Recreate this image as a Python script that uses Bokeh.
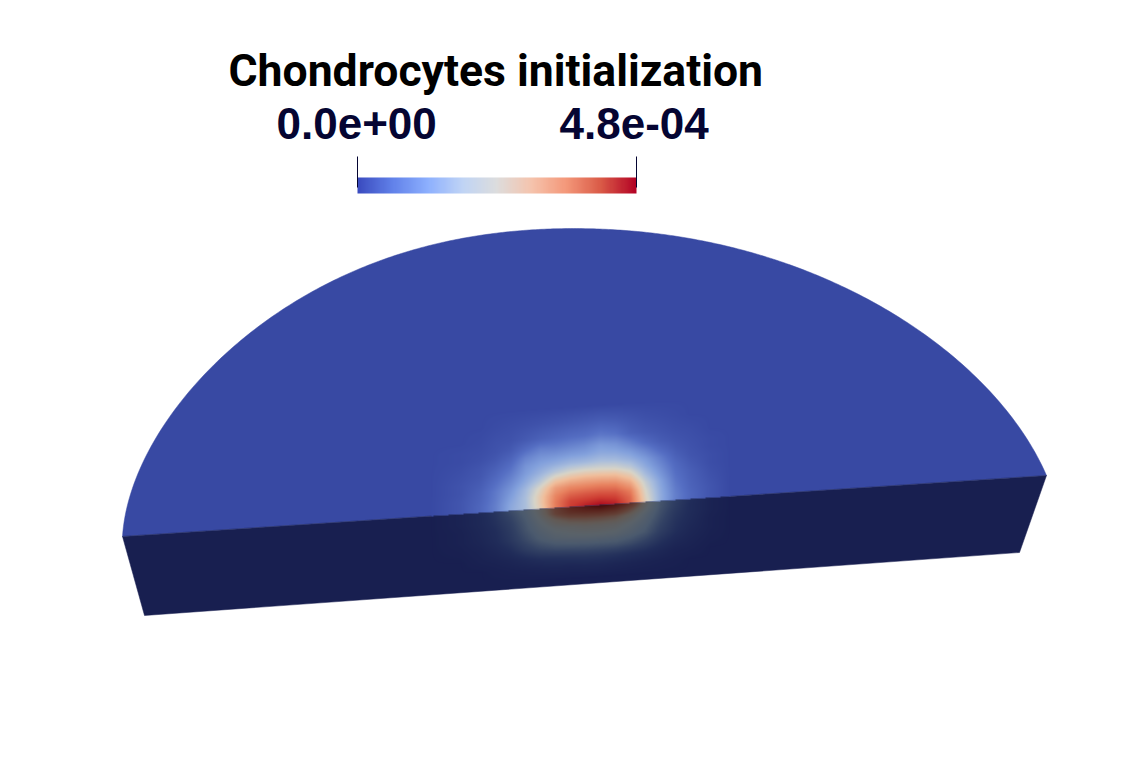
import numpy as np
from bokeh.plotting import figure
from bokeh.models import LinearColorMapper
from bokeh.core.properties import value
from bokeh.embed import file_html
from bokeh.resources import INLINE

H = 784
title_text = "Chondrocytes initialization"
range_labels = ["0.0e+00", "4.8e-04"]

arc_x = [122,130,143,163,187,220,250,283,323,377,430,493,543,590,630,680,737,787,833,880,920,957,990,1017,1046]
arc_y = [536,497,460,423,393,360,333,308,283,262,245,233,229,228,230,237,248,262,282,305,332,360,392,423,475]
front_x = [122,1046,1019,144]
front_y = [536,475,552,615]

cool_pos = [0,.125,.25,.375,.5,.625,.75,.875,1]
cool_r = [59,98,141,192,221,245,244,218,180]
cool_g = [76,130,176,212,221,196,152,90,4]
cool_b = [192,234,254,245,221,173,122,71,38]

dome_pos = [0,.15,.3,.4,.5,.6,.75,.9,1]
dome_r = [56,85,130,170,215,240,232,205,170]
dome_g = [73,110,160,190,212,190,130,60,10]
dome_b = [163,195,220,220,200,155,95,50,30]

side_pos = [0,.1,.2,.3,.4,.5,.6,.75,.9,1]
side_r = [24,33,50,75,90,98,100,92,78,66]
side_g = [31,45,65,90,98,90,65,40,20,10]
side_b = [80,90,100,110,105,85,55,32,18,10]

cols = [430,460,480,495,510,525,540,555,570,585,600,615,630,645,660,675,690,710,730]
dome_h = [0,6,12,20,28,36,44,52,60,70,85,100]
dome_vals = [
 [0,.05,.12,.20,.33,.40,.54,.76,.90,.96,1.0,.96,.82,.54,.34,.20,.12,.05,0],
 [0,.05,.12,.20,.32,.40,.56,.76,.88,.90,.92,.90,.80,.52,.34,.20,.12,.05,0],
 [0,.05,.11,.19,.30,.40,.56,.74,.82,.84,.85,.84,.76,.50,.33,.19,.11,.05,0],
 [0,.04,.10,.18,.27,.38,.52,.68,.73,.74,.75,.74,.66,.46,.31,.17,.10,.04,0],
 [0,.04,.08,.15,.23,.33,.43,.56,.61,.63,.63,.62,.55,.39,.27,.15,.09,.03,0],
 [0,.03,.06,.12,.19,.29,.36,.43,.48,.50,.50,.49,.44,.33,.23,.13,.07,.02,0],
 [0,.02,.05,.09,.15,.26,.31,.34,.37,.38,.40,.39,.35,.28,.19,.10,.05,.02,0],
 [0,.01,.03,.06,.11,.21,.26,.27,.29,.30,.33,.32,.28,.21,.13,.07,.04,.01,0],
 [0,.01,.02,.04,.07,.14,.20,.20,.22,.24,.28,.26,.20,.13,.08,.05,.03,.01,0],
 [0,0,.01,.03,.04,.07,.10,.12,.14,.15,.18,.16,.10,.07,.05,.03,.02,0,0],
 [0,0,0,.01,.02,.03,.04,.05,.06,.07,.08,.07,.05,.03,.02,.01,0,0,0],
 [0]*19,
]
side_d = [0,6,12,20,30,40,50,60,72]
side_vals = [
 [0,.03,.08,.14,.24,.33,.46,.62,.78,.88,1.0,.90,.72,.46,.28,.18,.10,.03,0],
 [0,.03,.07,.13,.21,.31,.44,.60,.70,.74,.76,.72,.58,.42,.27,.17,.09,.03,0],
 [0,.03,.07,.12,.19,.29,.40,.50,.56,.58,.58,.56,.48,.37,.25,.15,.09,.03,0],
 [0,.02,.06,.10,.17,.27,.36,.42,.44,.46,.46,.45,.40,.33,.22,.13,.08,.02,0],
 [0,.02,.05,.09,.15,.23,.31,.36,.38,.39,.39,.38,.34,.28,.18,.11,.06,.02,0],
 [0,.01,.03,.06,.10,.17,.22,.25,.26,.27,.27,.27,.24,.19,.12,.07,.04,.01,0],
 [0,0,.02,.03,.05,.08,.11,.12,.13,.14,.14,.13,.11,.09,.06,.03,.02,0,0],
 [0,0,0,.01,.02,.03,.04,.05,.05,.06,.06,.05,.04,.03,.02,.01,0,0,0],
 [0]*19,
]


def sample(xs, ds, levels, grid):
    g = np.array(grid, float)
    by_col = np.array([np.interp(xs, cols, row) for row in g])
    out = np.zeros(xs.shape)
    for j in range(xs.size):
        out[j] = np.interp(ds[j], levels, by_col[:, j])
    return out


cx, cy = 584.0, 505.0
ang = np.unwrap(np.arctan2(cy - np.array(arc_y, float), np.array(arc_x, float) - cx))
rad = np.hypot(np.array(arc_x, float) - cx, np.array(arc_y, float) - cy)
w = np.ones(len(arc_x))
w[0] = w[-1] = 30
w[11:16] = 3
coef = np.polyfit(ang - ang.mean(), rad, 9, w=w)
fine = np.linspace(ang.min(), ang.max(), 300)
frad = np.polyval(coef, fine - ang.mean())
dome_x = cx + frad * np.cos(fine)
dome_y = cy - frad * np.sin(fine)
dome_x = np.r_[front_x[1], dome_x, front_x[0]]
dome_y = np.r_[front_y[1], dome_y, front_y[0]]

X0, X1, Y0, Y1 = 430, 730, 400, 580
gx, gy = np.meshgrid(np.arange(X0, X1) + 0.5, np.arange(Y0, Y1) + 0.5)
slope = (front_y[1] - front_y[0]) / (front_x[1] - front_x[0])
edge = front_y[0] + slope * (gx - front_x[0])
d = gy - edge
t = np.zeros(gx.shape)
up = d < 0
t[up] = sample(gx[up], -d[up], dome_h, dome_vals)
t[~up] = sample(gx[~up], d[~up], side_d, side_vals)
rgb = np.zeros(gx.shape + (3,))
for k, (a, b) in enumerate(zip((dome_r, dome_g, dome_b), (side_r, side_g, side_b))):
    rgb[..., k] = np.where(up, np.interp(t, dome_pos, a), np.interp(t, side_pos, b))
img = np.zeros(gx.shape, dtype=np.uint32)
view = img.view(dtype=np.uint8).reshape(gx.shape + (4,))
view[..., :3] = rgb.round().astype(np.uint8)
view[..., 3] = np.where(t > 0.001, 255, 0)

p = figure(width=1126, height=768, x_range=(0, 1126), y_range=(16, 784),
           output_backend="svg", toolbar_location=None, min_border=0)
p.axis.visible = False
p.grid.visible = False
p.outline_line_color = None

p.patch(dome_x, H - dome_y, fill_color="#3849A3", line_color="#3849A3", line_width=0.5)
p.patch(front_x, [H - v for v in front_y], fill_color="#181F50", line_color="#181F50", line_width=0.5)
p.image_rgba(image=[np.flipud(img)], x=X0, y=H - Y1, dw=X1 - X0, dh=Y1 - Y0)
p.line([front_x[0], front_x[1]], [H - front_y[0], H - front_y[1]], line_color="#3C4A8C", line_width=0.6, line_alpha=0.6)

pal_x = np.linspace(0, 1, 256)
pal = ["#%02x%02x%02x" % tuple(int(round(np.interp(v, cool_pos, c))) for c in (cool_r, cool_g, cool_b)) for v in pal_x]
mapper = LinearColorMapper(palette=pal, low=0, high=1)
p.image(image=[np.linspace(0, 1, 280)[None, :]], x=357, y=H - 193, dw=279, dh=16, color_mapper=mapper)
for tx in (357, 636):
    p.line([tx, tx], [H - 156, H - 187], line_color="#050532", line_width=1)

p.text(x=[228], y=[H - 70], text=[title_text], text_font=value("Roboto"), text_font_style="bold",
       text_font_size="44.5px", text_color="#000000", text_baseline="alphabetic", text_align="left")
p.text(x=[276, 559], y=[H - 123, H - 123], text=range_labels, text_font=value("Liberation Sans"), text_font_style="bold",
       text_font_size="44px", text_color="#050532", text_baseline="alphabetic", text_align="left")

open("out.html", "w").write(file_html(p, INLINE))
